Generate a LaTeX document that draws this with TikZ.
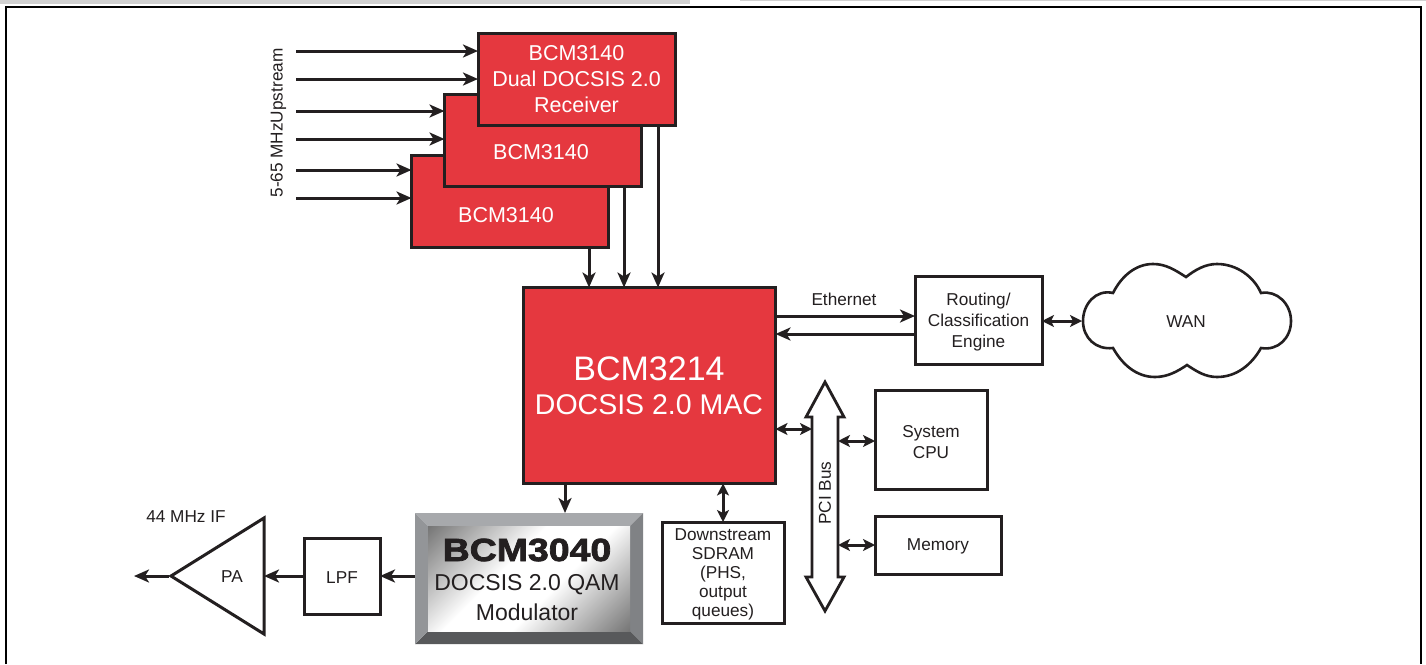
\documentclass[tikz,border=0pt]{standalone}
\usepackage{fontspec}
\setmainfont{Liberation Sans}
\newfontfamily\heavyfont[FakeBold=2.5,FakeStretch=1.17]{Liberation Sans Bold}
\usetikzlibrary{arrows.meta,shapes.geometric}
\definecolor{chipred}{HTML}{E5383F}
\definecolor{ink}{HTML}{231F20}
\definecolor{gA}{gray}{0.45}
\definecolor{gB}{gray}{0.80}
\pgfdeclarehorizontalshading{modshade}{100bp}{color(0bp)=(gA);color(14bp)=(gA);color(32bp)=(gB);color(42bp)=(white);color(58bp)=(white);color(68bp)=(gB);color(86bp)=(gA);color(100bp)=(gA)}
\newcommand{\nudgeby}[1]{\mbox{}\\[#1]}
\tikzset{
 x=1pt,y=-1pt,
 chip/.style={draw=ink,fill=chipred,line width=3pt,outer sep=0pt,text=white,align=center,font=\fontsize{21.5}{26}\selectfont,anchor=north west,inner sep=0pt},
 chiplabel/.style={font=\fontsize{21.5}{26}\selectfont,text=white,inner sep=0pt},
 plainbox/.style={draw=ink,fill=white,line width=3pt,outer sep=0pt,text=ink,align=center,font=\fontsize{17.2}{21}\selectfont,anchor=north west,inner sep=0pt},
 lab/.style={text=ink,font=\fontsize{17.2}{20}\selectfont,align=center,inner sep=0pt},
 modlabel/.style={text=ink,font=\fontsize{23}{28}\selectfont,inner sep=0pt},
 one/.style={draw=ink,line width=3pt,-{Stealth[length=15pt,width=13pt,inset=4pt]}},
 two/.style={draw=ink,line width=3pt,{Stealth[length=12pt,width=12pt,inset=3pt]}-{Stealth[length=12pt,width=12pt,inset=3pt]}},
}
\begin{document}
\begin{tikzpicture}
\useasboundingbox (0,0) rectangle (1426,664);
\fill[white] (0,0) rectangle (1426,664);
\fill[black!18] (0,0) rectangle (690,4);
\fill[black!18] (740,0) rectangle (1426,1);
\draw[black,line width=2.6pt] (6,664) -- (6,7) -- (1421,7) -- (1421,664);
% receivers
\node[chip,minimum width=197pt,minimum height=92pt] (r3) at (411.5,155.5) {};
\node[chiplabel] (t3) at (506,215) {BCM3140};
\node[chip,minimum width=197pt,minimum height=92pt] (r2) at (444.5,94.5) {};
\node[chiplabel] (t2) at (541,152) {BCM3140};
\node[chip,minimum width=197pt,minimum height=92pt] (r1) at (478,33.5) {BCM3140\\Dual DOCSIS 2.0\\Receiver};
% MAC
\node[chip,minimum width=252pt,minimum height=196pt] (mac) at (523.5,287.5) {};
\node[text=white,font=\fontsize{34}{38}\selectfont,inner sep=0pt] (mact) at (649,369) {BCM3214};
\node[text=white,font=\fontsize{28.5}{32}\selectfont,inner sep=0pt] (macs) at (649,405) {DOCSIS 2.0 MAC};
% modulator
\coordinate (ma) at (415,513); \coordinate (mb) at (643,513); \coordinate (mc) at (643,644); \coordinate (md) at (415,644);
\coordinate (ia) at (428,526); \coordinate (ib) at (630,526); \coordinate (ic) at (630,631); \coordinate (id) at (428,631);
\fill[fill={rgb,255:red,167;green,169;blue,172}] (ma) -- (mb) -- (ib) -- (ia) -- cycle;
\fill[fill={rgb,255:red,128;green,130;blue,133}] (mb) -- (mc) -- (ic) -- (ib) -- cycle;
\fill[fill={rgb,255:red,88;green,89;blue,91}] (mc) -- (md) -- (id) -- (ic) -- cycle;
\fill[fill={rgb,255:red,147;green,149;blue,152}] (md) -- (ma) -- (ia) -- (id) -- cycle;
\shade[shading=modshade,shading angle=-45] (428,526) rectangle (630,631);
\node[text=ink,font=\heavyfont\fontsize{32}{36}\selectfont,inner sep=0pt] (mod1) at (527,550) {BCM3040};
\node[modlabel] (mod2) at (527,585) {DOCSIS 2.0 QAM};
\node[modlabel] (mod3) at (527,612) {Modulator};
\path (ma) -- (md) coordinate[pos=0.5] (modl);
\path (ma) -- (mb) coordinate[pos=0.658] (modt);
% boxes
\node[plainbox,minimum width=127pt,minimum height=88pt] (rt) at (915,276) {\nudgeby{-3.5pt}Routing/\\Classification\\Engine};
\node[plainbox,minimum width=112pt,minimum height=99pt] (cpu) at (875,390) {\nudgeby{-3.5pt}System\\CPU};
\node[plainbox,minimum width=126pt,minimum height=58pt] (mem) at (875,516) {\nudgeby{-6.6pt}Memory};
\node[plainbox,minimum width=122pt,minimum height=101pt,font=\fontsize{17.2}{19}\selectfont] (sd) at (662,522) {\nudgeby{-3.6pt}Downstream\\SDRAM\\(PHS,\\output\\queues)};
\node[plainbox,minimum width=76pt,minimum height=76pt] (lpf) at (304,538) {\nudgeby{-6.6pt}LPF};
% PA
\draw[ink,line width=3pt,line join=miter,fill=white] (171,576) -- (264,518) -- (264,634) -- cycle;
\coordinate (patip) at (169,576); \coordinate (pab) at (264,576);
\node[lab] (pa) at (232,576.5) {PA};
\node[lab] (if) at (186,517) {44 MHz IF};
% WAN cloud
\draw[ink,line width=2.6pt,fill=white] (1186,277)
 .. controls (1175,270) and (1166,264) .. (1153,264)
 .. controls (1135,264) and (1121,277) .. (1113,293)
 .. controls (1096,289) and (1083,304) .. (1083,321)
 .. controls (1083,338) and (1096,350) .. (1113,348)
 .. controls (1122,364) and (1136,377) .. (1155,377)
 .. controls (1168,377) and (1178,371) .. (1187,365)
 .. controls (1196,371) and (1205,377) .. (1217,377)
 .. controls (1237,377) and (1252,364) .. (1261,348)
 .. controls (1278,351) and (1291,338) .. (1291,321)
 .. controls (1291,304) and (1277,290) .. (1261,293)
 .. controls (1254,277) and (1237,264) .. (1217,264)
 .. controls (1205,264) and (1195,270) .. (1186,277) -- cycle;
\node[lab] (wan) at (1186,321.5) {WAN};
\coordinate (wanl) at (1082,321);
% PCI bus
\draw[ink,line width=2.8pt,fill=white,line join=miter] (825,382) -- (844,417) -- (838,417) -- (838,577) -- (844,577) -- (825,611) -- (806,577) -- (812,577) -- (812,417) -- (806,417) -- cycle;
\node[lab,rotate=90] (pci) at (825,493) {PCI Bus};
\coordinate (pcil) at (812,429); \coordinate (pcir1) at (838,441); \coordinate (pcir2) at (838,545);
% upstream
\node[lab,rotate=90] (up) at (278.5,123) {5-65 MHzUpstream};
\coordinate (sa) at (296,51); \coordinate (sb) at (296,79);
\coordinate (sc) at (296,111); \coordinate (sd2) at (296,139);
\coordinate (se) at (296,170); \coordinate (sf) at (296,198);
\draw[one] (sa) -- (sa -| r1.west);
\draw[one] (sb) -- (sb -| r1.west);
\draw[one] (sc) -- (sc -| r2.west);
\draw[one] (sd2) -- (sd2 -| r2.west);
\draw[one] (se) -- (se -| r3.west);
\draw[one] (sf) -- (sf -| r3.west);
% to MAC
\draw[one] (589,0 |- r3.south) -- (589,0 |- mac.north);
\draw[one] (624,0 |- r2.south) -- (624,0 |- mac.north);
\draw[one] (658,0 |- r1.south) -- (658,0 |- mac.north);
% ethernet
\node[lab] (eth) at (844,299) {Ethernet};
\draw[one] (mac.east |- 0,316) -- (rt.west |- 0,316);
\draw[one] (rt.west |- 0,334) -- (mac.east |- 0,334);
\draw[two] (rt.east |- wanl) -- (wanl);
\draw[two] (mac.east |- pcil) -- (pcil);
\draw[two] (pcir1) -- (pcir1 -| cpu.west);
\draw[two] (pcir2) -- (pcir2 -| mem.west);
\draw[one] (565,0 |- mac.south) -- (565,0 |- modt);
\draw[two] (723,0 |- mac.south) -- (723,0 |- sd.north);
\draw[one] (modl |- 0,576) -- (lpf.east |- 0,576);
\draw[one] (lpf.west |- 0,576) -- (pab);
\draw[one] (patip) -- (134,576);
\end{tikzpicture}
\end{document}
